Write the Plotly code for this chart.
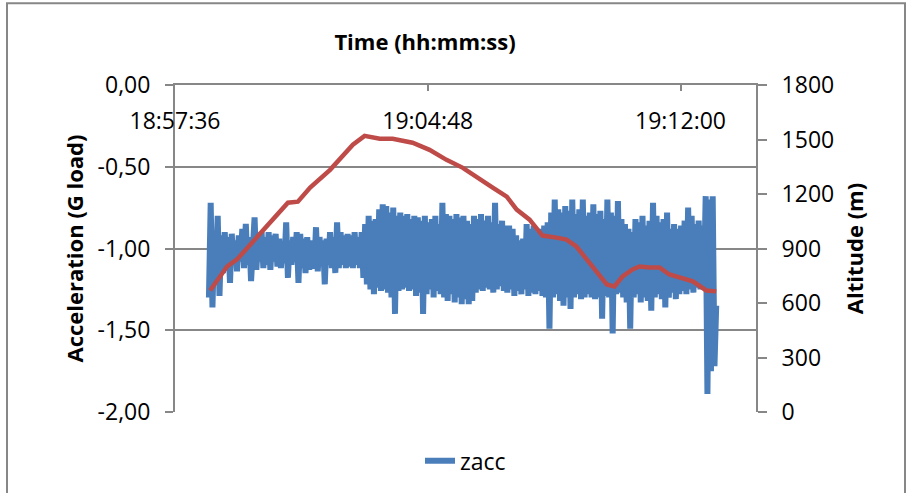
import pandas as pd
import plotly.graph_objects as go

DAY = "2000-01-01 "

# ---- time axis ----
time_title = "Time (hh:mm:ss)"
time_tick_labels = ["18:57:36", "19:04:48", "19:12:00"]
time_axis_range = ["18:57:36", "19:14:09"]

# ---- zacc (G load), logged every 3 s starting at 18:58:34 ----
zacc_start = "18:58:34"
zacc_period_s = 3
zacc = [
    -1.30, -0.72, -1.36, -0.95, -1.10, -0.80, -1.29, -0.92, -1.15, -0.90,
    -1.12, -0.93, -1.21, -0.91, -1.10, -0.95, -1.14, -0.92, -1.08, -0.88,
    -1.12, -0.85, -1.10, -0.93, -1.20, -1.05, -0.81, -1.13, -0.95, -1.08,
    -0.90, -1.12, -0.93, -1.10, -0.90, -1.13, -0.92, -1.08, -0.91, -1.11,
    -0.94, -1.12, -0.96, -1.09, -0.84, -1.18, -0.95, -1.10, -0.93, -1.08,
    -0.90, -1.21, -0.91, -1.12, -0.94, -1.15, -0.93, -1.13, -0.95, -1.10,
    -1.12, -0.87, -1.14, -0.93, -1.10, -0.95, -1.22, -0.94, -1.10, -0.90,
    -1.12, -0.93, -1.15, -0.84, -1.12, -0.90, -1.10, -0.92, -1.12, -0.91,
    -1.11, -0.92, -1.12, -0.90, -1.10, -0.93, -1.12, -0.90, -1.18, -0.85,
    -1.22, -0.80, -1.25, -0.83, -1.28, -0.82, -1.24, -0.76, -1.26, -0.73,
    -1.25, -0.74, -1.27, -0.78, -1.30, -0.75, -1.40, -0.80, -1.26, -0.78,
    -1.25, -0.80, -1.24, -0.79, -1.26, -0.82, -1.25, -0.80, -1.29, -0.81,
    -1.27, -0.83, -1.40, -0.80, -1.28, -0.84, -1.25, -0.82, -1.30, -0.80,
    -1.26, -0.85, -1.28, -0.72, -1.30, -0.79, -1.32, -0.80, -1.28, -0.82,
    -1.33, -0.79, -1.30, -0.81, -1.34, -0.80, -1.31, -0.83, -1.34, -0.85,
    -1.32, -0.80, -1.27, -0.82, -1.25, -0.79, -1.26, -0.83, -1.24, -0.80,
    -1.25, -0.84, -1.27, -0.72, -1.25, -0.85, -1.23, -0.83, -1.26, -0.86,
    -1.27, -0.86, -1.25, -0.88, -1.29, -0.92, -1.26, -0.95, -1.28, -0.94,
    -1.25, -0.85, -1.29, -0.88, -1.27, -0.86, -1.28, -0.90, -1.26, -0.88,
    -1.29, -0.86, -1.30, -0.84, -1.49, -0.78, -1.30, -0.70, -1.28, -0.76,
    -1.32, -0.78, -1.35, -0.74, -1.30, -0.77, -1.37, -0.70, -1.30, -0.79,
    -1.28, -0.76, -1.31, -0.70, -1.30, -0.80, -1.28, -0.78, -1.30, -0.73,
    -1.31, -0.79, -1.30, -0.77, -1.43, -0.82, -1.29, -0.70, -1.30, -0.78,
    -1.52, -0.80, -1.28, -0.71, -1.27, -0.82, -1.30, -0.85, -1.33, -0.88,
    -1.49, -0.90, -1.30, -0.82, -1.28, -0.84, -1.33, -0.80, -1.30, -0.86,
    -1.32, -0.83, -1.38, -0.72, -1.30, -0.80, -1.28, -0.84, -1.31, -0.82,
    -1.36, -0.78, -1.30, -0.88, -1.27, -0.85, -1.31, -0.88, -1.28, -0.86,
    -1.26, -0.83, -1.28, -0.75, -1.25, -0.80, -1.27, -0.85, -1.24, -0.83,
    -1.25, -0.86, -1.22, -0.68, -1.89, -0.70, -1.75, -0.68, -1.72, -1.35,
]

# ---- altitude (m) ----
alt_times = [
    "18:58:36", "18:59:05", "18:59:22", "19:00:49", "19:01:06", "19:01:27",
    "19:02:01", "19:02:40", "19:03:00", "19:03:26", "19:03:48", "19:04:22",
    "19:04:51", "19:05:20", "19:05:48", "19:06:17", "19:06:39", "19:07:03",
    "19:07:20", "19:07:42", "19:08:04", "19:08:28", "19:08:45", "19:09:02",
    "19:09:20", "19:09:37", "19:09:54", "19:10:07", "19:10:21", "19:10:38",
    "19:10:50", "19:11:07", "19:11:24", "19:11:41", "19:11:58", "19:12:21",
    "19:12:44", "19:13:01",
]
alt_m = [
    669, 801, 840, 1152, 1158, 1235,
    1333, 1471, 1520, 1504, 1504, 1482,
    1443, 1388, 1344, 1279, 1235, 1185,
    1114, 1059, 971, 960, 949, 911,
    840, 768, 702, 691, 746, 785,
    801, 796, 796, 757, 741, 719,
    669, 664,
]

# ---- value axes ----
acc_ticks = [-2.0, -1.5, -1.0, -0.5, 0.0]
acc_tick_text = ["-2,00", "-1,50", "-1,00", "-0,50", "0,00"]
alt_ticks = [0, 300, 600, 900, 1200, 1500, 1800]

GRAY = "#878787"
BLUE = "#4A7EBB"
RED = "#BE4B48"
FONT = "Open Sans"
FS = 23
TFS = 22

zacc_times = pd.date_range(start=DAY + zacc_start, periods=len(zacc),
                           freq=f"{zacc_period_s}s")
alt_dt = pd.to_datetime([DAY + t for t in alt_times])
xr = [DAY + t for t in time_axis_range]
xt = [DAY + t for t in time_tick_labels]

fig = go.Figure()
fig.add_trace(go.Scatter(x=zacc_times, y=zacc, mode="lines", name="zacc",
                         line=dict(color=BLUE, width=6),
                         xaxis="x", yaxis="y"))
fig.add_trace(go.Scatter(x=alt_dt, y=alt_m, mode="lines", name="Altitude",
                         line=dict(color=RED, width=4.5), showlegend=False,
                         xaxis="x2", yaxis="y2"))

fig.update_layout(
    width=909, height=493,
    margin=dict(l=175, r=153, t=85, b=80),
    paper_bgcolor="white", plot_bgcolor="white",
    font=dict(family=FONT, size=FS, color="black"),
    title=dict(text=time_title, x=425 / 909, xanchor="center", xref="container",
               y=1 - 42 / 493, yanchor="middle", yref="container",
               font=dict(size=TFS, weight="bold")),
    showlegend=True,
    legend=dict(orientation="h", x=0.5, xanchor="center", y=-0.08,
                yanchor="top", font=dict(size=FS), bgcolor="rgba(0,0,0,0)"),
    xaxis=dict(
        type="date", range=xr, side="top",
        tickvals=xt, showticklabels=False,
        ticks="inside", ticklen=6, tickwidth=2, tickcolor=GRAY,
        showline=True, linecolor=GRAY, linewidth=2,
        showgrid=False, zeroline=False,
    ),
    xaxis2=dict(
        type="date", range=xr, overlaying="x", anchor="free",
        position=0.94, side="bottom",
        tickvals=xt, ticktext=time_tick_labels,
        ticks="", showline=False, showgrid=False, zeroline=False,
        tickfont=dict(size=FS),
    ),
    yaxis=dict(
        range=[-2, 0], tickvals=acc_ticks, ticktext=acc_tick_text,
        ticks="outside", ticklen=8, tickwidth=2, tickcolor=GRAY,
        showline=True, linecolor=GRAY, linewidth=2,
        showgrid=True, gridcolor=GRAY, gridwidth=2, zeroline=False,
        ticklabelstandoff=10, tickfont=dict(size=FS),
        title=dict(text="Acceleration (G load)", standoff=8,
                   font=dict(size=TFS, weight="bold")),
    ),
    yaxis2=dict(
        range=[0, 1800], tickvals=alt_ticks, overlaying="y", side="right",
        anchor="x2",
        ticks="outside", ticklen=9, tickwidth=2, tickcolor=GRAY,
        showline=True, linecolor=GRAY, linewidth=2,
        showgrid=False, zeroline=False,
        ticklabelstandoff=10, tickfont=dict(size=FS),
        title=dict(text="Altitude (m)", standoff=14,
                   font=dict(size=TFS, weight="bold")),
    ),
)

# outer chart-area frame
fig.add_shape(type="rect", xref="paper", yref="paper",
              x0=(7 - 175) / 581, x1=(905 - 175) / 581,
              y0=(413 - 500) / 328, y1=(413 - 3) / 328,
              line=dict(color=GRAY, width=2), fillcolor="rgba(0,0,0,0)",
              layer="below")

fig.write_html("out.html", config={"displayModeBar": False},
               post_script="document.body.style.margin='0';")
